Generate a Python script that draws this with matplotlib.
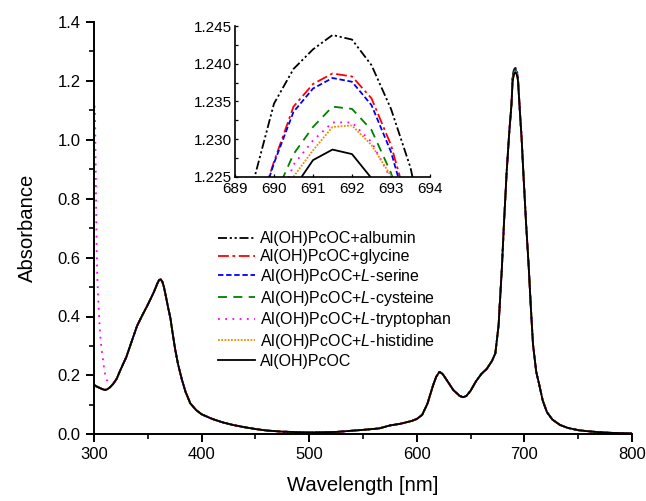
import matplotlib
matplotlib.use("Agg")
import matplotlib.pyplot as plt
from matplotlib.ticker import MultipleLocator, FormatStrFormatter

plt.rcParams['font.family'] = ['Liberation Sans', 'DejaVu Sans']
plt.rcParams['mathtext.fontset'] = 'custom'
plt.rcParams['mathtext.it'] = 'Liberation Sans:italic'
plt.rcParams['mathtext.rm'] = 'Liberation Sans'

# ---------------- data ----------------
# common spectrum (all samples overlap at main scale), outside the 689-694 nm peak window
base_wl = [300, 302, 305, 308, 310, 312, 315, 318, 321, 325, 330, 335, 340, 345, 350,
           355, 357, 359, 360.5, 362, 363.5, 365, 367, 369, 371, 373, 375.5, 378, 381.5,
           385, 389.5, 395, 400, 410, 420,
           430, 440, 450, 460, 475, 500, 525, 550, 565, 575, 585, 595, 600, 605, 610,
           615, 618, 621, 624, 628, 634, 640, 643, 646, 650, 655, 660, 665, 670, 673,
           676, 679, 681, 683.5, 686, 688,
           696, 697.5, 699, 701.5, 704, 706, 708, 711, 714, 717, 721, 726, 733, 740,
           750, 760, 770, 780, 790, 800]
base_abs = [0.168, 0.163, 0.158, 0.153, 0.151, 0.152, 0.160, 0.172, 0.188, 0.222, 0.262,
            0.315, 0.368, 0.405, 0.440, 0.478, 0.495, 0.513, 0.524, 0.526, 0.518, 0.500,
            0.465, 0.428, 0.395, 0.345, 0.287, 0.240, 0.188,
            0.145, 0.105, 0.082, 0.068, 0.052, 0.040, 0.031, 0.024, 0.018,
            0.013, 0.009, 0.006, 0.008, 0.015, 0.020, 0.030, 0.036, 0.045, 0.052, 0.066,
            0.105, 0.165, 0.195, 0.212, 0.205, 0.183, 0.150, 0.130, 0.126, 0.130, 0.148,
            0.180, 0.205, 0.222, 0.250, 0.275, 0.370, 0.560, 0.715, 0.890, 1.030, 1.120,
            1.085, 1.000, 0.890, 0.720, 0.570, 0.430, 0.305, 0.212, 0.165, 0.115, 0.075,
            0.050, 0.032, 0.022, 0.014, 0.010, 0.007, 0.005, 0.004, 0.003]

# L-tryptophan sample: strong UV edge below 320 nm
trp_uv_wl = [300, 300.9, 301.6, 302.2, 302.5, 303, 304, 305.6, 307, 308.1, 309.3,
             310.5, 311.8, 313, 315, 318]
trp_uv_abs = [1.14, 1.10, 0.90, 0.70, 0.62, 0.54, 0.45, 0.343, 0.29, 0.26, 0.226,
              0.200, 0.185, 0.178, 0.172, 0.172]

# Q-band maximum (inset window)
peak_wl = [689.0, 689.5, 690.0, 690.5, 691.0, 691.5, 692.0, 692.5, 693.0, 693.5, 694.0]
peak_albumin    = [1.212, 1.2249, 1.2347, 1.2393, 1.2419, 1.2438, 1.2432, 1.2398, 1.2340, 1.2262, 1.214]
peak_glycine    = [1.207, 1.2190, 1.2270, 1.2343, 1.2373, 1.2387, 1.2383, 1.2354, 1.2292, 1.2200, 1.208]
peak_serine     = [1.206, 1.2188, 1.2268, 1.2336, 1.2367, 1.2381, 1.2376, 1.2345, 1.2283, 1.2192, 1.207]
peak_cysteine   = [1.203, 1.2145, 1.2222, 1.2280, 1.2316, 1.2343, 1.2340, 1.2312, 1.2255, 1.2170, 1.205]
peak_tryptophan = [1.200, 1.2115, 1.2195, 1.2266, 1.2298, 1.2322, 1.2322, 1.2296, 1.2247, 1.2160, 1.204]
peak_histidine  = [1.199, 1.2105, 1.2185, 1.2250, 1.2285, 1.2316, 1.2318, 1.2292, 1.2251, 1.2160, 1.204]
peak_pcoc       = [1.196, 1.2075, 1.2160, 1.2234, 1.2272, 1.2286, 1.2280, 1.2248, 1.2200, 1.2120, 1.200]

labels = ["Al(OH)PcOC+albumin",
          "Al(OH)PcOC+glycine",
          "Al(OH)PcOC+$\\it{L}$-serine",
          "Al(OH)PcOC+$\\it{L}$-cysteine",
          "Al(OH)PcOC+$\\it{L}$-tryptophan",
          "Al(OH)PcOC+$\\it{L}$-histidine",
          "Al(OH)PcOC"]
peaks = [peak_albumin, peak_glycine, peak_serine, peak_cysteine,
         peak_tryptophan, peak_histidine, peak_pcoc]
uv_override = [False, False, False, False, True, False, False]

colors = ['black', '#ff0000', '#0000ff', '#008000', '#ff00ff', '#f08c00', 'black']
styles = [(0, (5, 1.5, 1.2, 1.5, 1.2, 1.5)),
          (0, (6, 2, 1.5, 2)),
          (0, (3, 1.5)),
          (0, (5, 3.5)),
          (0, (1, 3)),
          (0, (1, 0.8)),
          '-']


def build(peak, uv):
    pts = []
    for w, a in zip(base_wl, base_abs):
        if uv and w <= trp_uv_wl[-1]:
            continue
        pts.append((w, a))
    if uv:
        pts += list(zip(trp_uv_wl, trp_uv_abs))
    pts += list(zip(peak_wl, peak))
    pts.sort()
    return [p[0] for p in pts], [p[1] for p in pts]


# ---------------- figure ----------------
W, H = 646, 501
fig = plt.figure(figsize=(W / 100, H / 100), dpi=100)
ax = fig.add_axes([94 / W, 1 - 434.3 / H, (632 - 94) / W, (434.3 - 22) / H])

handles = []
for lab, pk, uv, c, ls in zip(labels, peaks, uv_override, colors, styles):
    x, y = build(pk, uv)
    ln, = ax.plot(x, y, color=c, linestyle=ls, linewidth=1.3)
    handles.append(ln)

ax.set_xlim(300, 800)
ax.set_ylim(0, 1.4)
ax.xaxis.set_major_locator(MultipleLocator(100))
ax.xaxis.set_minor_locator(MultipleLocator(50))
ax.yaxis.set_major_locator(MultipleLocator(0.2))
ax.yaxis.set_minor_locator(MultipleLocator(0.1))
ax.yaxis.set_major_formatter(FormatStrFormatter('%.1f'))
for s in ['top', 'right']:
    ax.spines[s].set_visible(False)
for s in ['left', 'bottom']:
    ax.spines[s].set_linewidth(1.4)
ax.tick_params(which='major', direction='out', length=6, width=1.4, labelsize=12)
ax.tick_params(which='minor', direction='out', length=3.5, width=1.2)
ax.set_xlabel('Wavelength [nm]', fontsize=14.6, labelpad=10)
ax.set_ylabel('Absorbance', fontsize=14.6, labelpad=15)

leg = fig.legend(handles, labels, loc='upper left',
                 bbox_to_anchor=(218 / W, 1 - 231.5 / H),
                 frameon=False, fontsize=11.5, handlelength=2.3,
                 handletextpad=0.3, labelspacing=0.17, borderpad=0,
                 borderaxespad=0)

# ---------------- inset ----------------
axi = fig.add_axes([235 / W, 1 - 176.7 / H, (430 - 235) / W, (176.7 - 26) / H])
for lab, pk, c, ls in zip(labels, peaks, colors, styles):
    axi.plot(peak_wl, pk, color=c, linestyle=ls, linewidth=1.3)
axi.set_xlim(689, 694)
axi.set_ylim(1.225, 1.245)
axi.xaxis.set_major_locator(MultipleLocator(1))
axi.yaxis.set_major_locator(MultipleLocator(0.005))
axi.yaxis.set_minor_locator(MultipleLocator(0.0025))
axi.yaxis.set_major_formatter(FormatStrFormatter('%.3f'))
for s in ['top', 'right']:
    axi.spines[s].set_visible(False)
for s in ['left', 'bottom']:
    axi.spines[s].set_linewidth(1.2)
axi.tick_params(axis='y', which='major', direction='in', length=2.5, width=0.9,
                labelsize=11, pad=2)
axi.tick_params(axis='x', which='major', direction='in', length=2.5, width=0.9,
                labelsize=11, pad=4)
axi.tick_params(which='minor', direction='in', length=2.5, width=0.9)
axi.patch.set_alpha(0)

fig.savefig('out.png', dpi=100)
